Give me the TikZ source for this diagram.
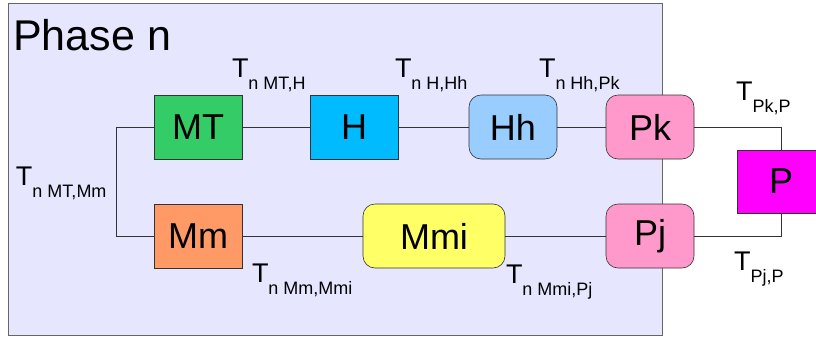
\documentclass[tikz,border=0pt]{standalone}
\usepackage{fontspec}
\setmainfont{Liberation Sans}
\usepackage{tikz}
\usetikzlibrary{positioning, calc}
\definecolor{phasebg}{HTML}{E6E6FF}
\definecolor{cMT}{HTML}{33CC66}
\definecolor{cH}{HTML}{00BBFF}
\definecolor{cHh}{HTML}{99CCFF}
\definecolor{cPk}{HTML}{FF99CC}
\definecolor{cMm}{HTML}{FF9966}
\definecolor{cMmi}{HTML}{FFFF66}
\definecolor{cP}{HTML}{FF00FF}
\newcommand{\tsub}[1]{{\fontsize{27}{27}\selectfont T}\raisebox{-12pt}{\fontsize{18}{18}\selectfont #1}}
\tikzset{
    sbox/.style={
        draw=black!80, line width=0.6pt,
        minimum width=88pt, minimum height=64pt,
        font=\fontsize{36}{36}\selectfont,
        inner sep=0pt
    },
    rbox/.style={sbox, rounded corners=12pt},
    link/.style={draw=black!80, line width=0.8pt},
    tlab/.style={anchor=base west, inner sep=0pt, outer sep=0pt},
}

\begin{document}
\begin{tikzpicture}[x=1pt, y=-1pt]
\useasboundingbox (0,0) rectangle (816,338);

% ---- Phase box ----
\node[draw=black!60, line width=1.2pt, fill=phasebg, minimum width=654pt,
    minimum height=332pt, anchor=north west, inner sep=0pt] (phase) at (8,3) {};
\node[anchor=base west, inner sep=0pt, font=\fontsize{43}{43}\selectfont]
    (phasetitle) at (13,50) {Phase n};

% ---- Upper row ----
\node[sbox, fill=cMT] (MT) at (198,127) {MT};
\node[sbox, fill=cH]  (H)  at (354,127) {H};
\node[rbox, fill=cHh] (Hh) at (513,127) {Hh};
\node[rbox, fill=cPk] (Pk) at (650,127) {Pk};

% ---- Lower row ----
\node[sbox, fill=cMm] (Mm) at (198,236) {Mm};
\node[rbox, fill=cMmi, minimum width=142pt] (Mmi) at (434,236) {Mmi};
\node[rbox, fill=cPk] (Pj) at (650,236) {Pj};

% ---- Outside ----
\node[sbox, fill=cP, minimum height=63pt] (P) at (781,181.5) {P};

% ---- Connectors ----
\draw[link] (MT) -- (H);
\draw[link] (H) -- (Hh);
\draw[link] (Hh) -- (Pk);
\draw[link] (Mm) -- (Mmi);
\draw[link] (Mmi) -- (Pj);
\draw[link] (MT.west) -- ++(-37,0) |- (Mm.west);
\draw[link] (Pk.east) -| (P.north);
\draw[link] (Pj.east) -| (P.south);

% ---- Labels ----
\node[tlab] (lMTH)   at (232,77)  {\tsub{n MT,H}};
\node[tlab] (lHHh)   at (395,77)  {\tsub{n H,Hh}};
\node[tlab] (lHhPk)  at (539,77)  {\tsub{n Hh,Pk}};
\node[tlab] (lPkP)   at (736,100) {\tsub{Pk,P}};
\node[tlab] (lMTMm)  at (16,185)  {\tsub{n MT,Mm}};
\node[tlab] (lMmMmi) at (252,282) {\tsub{n Mm,Mmi}};
\node[tlab] (lMmiPj) at (506,283) {\tsub{n Mmi,Pj}};
\node[tlab] (lPjP)   at (734,270) {\tsub{Pj,P}};

\end{tikzpicture}
\end{document}
